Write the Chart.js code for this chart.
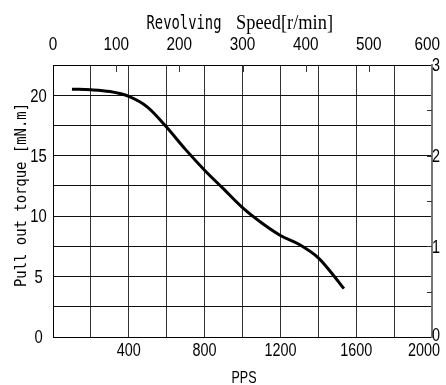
<!DOCTYPE html>
<html><head><meta charset="utf-8">
<script src="https://cdn.jsdelivr.net/npm/chart.js@4.4.1/dist/chart.umd.min.js"></script>
<style>html,body{margin:0;padding:0;background:#fff}</style>
</head><body>
<canvas id="c" width="446" height="385"></canvas>
<script>
// ---- data ----
const ppsValues    = [100, 200, 300, 400, 500, 600, 700, 800, 900, 1000, 1100, 1200, 1300, 1400, 1470, 1535];
const torqueValues = [20.5, 20.45, 20.3, 19.9, 19.0, 17.35, 15.5, 13.8, 12.25, 10.7, 9.45, 8.4, 7.65, 6.55, 5.3, 4.0];
const ppsTickLabels    = [400, 800, 1200, 1600, 2000];
const torqueTickLabels = [0, 5, 10, 15, 20];
const speedTickLabels  = [0, 100, 200, 300, 400, 500, 600];
const rightTickLabels  = [0, 1, 2, 3];
const topTitleA = "Revolving";
const topTitleB = "Speed[r/min]";
const leftTitle = "Pull out torque [mN.m]";
const bottomTitle = "PPS";

const sansFam = '"Liberation Sans", Arial, sans-serif';

function noPad(s){ s.paddingLeft = 0; s.paddingRight = 0; s.paddingTop = 0; s.paddingBottom = 0; }

const titlesPlugin = {
  id: 'titles',
  afterDraw(chart) {
    const ctx = chart.ctx;
    const ca = chart.chartArea;
    const W = chart.width;
    ctx.save();
    ctx.fillStyle = '#000';
    ctx.textBaseline = 'alphabetic';
    ctx.textAlign = 'left';
    function drawFit(text, font, x, y, width) {
      ctx.font = font;
      const w = ctx.measureText(text).width;
      ctx.save();
      ctx.translate(x, y);
      ctx.scale(width / w, 1);
      ctx.fillText(text, 0, 0);
      ctx.restore();
    }
    // condensed tick label: align 'center' | 'left', y = visual centre of digits
    function drawLabel(text, size, sx, x, yc, align) {
      ctx.font = size + 'px ' + sansFam;
      const w = ctx.measureText(text).width * sx;
      let left = align === 'left' ? x : x - w / 2;
      if (left + w > W - 6) left = W - 6 - w;
      ctx.save();
      ctx.translate(left, yc + size * 0.716 / 2);
      ctx.scale(sx, 1);
      ctx.fillText(text, 0, 0);
      ctx.restore();
    }
    // titles
    drawFit(topTitleA, '19px "DejaVu Sans Mono"', 146.5, 28.5, 75);
    drawFit(topTitleB, '20px "Liberation Serif"', 236, 28.5, 97);
    ctx.font = '16px "DejaVu Sans Mono"';
    const lw = ctx.measureText(leftTitle).width;
    ctx.save();
    ctx.translate(25.5, 195);
    ctx.rotate(-Math.PI / 2);
    ctx.scale(184 / lw, 1);
    ctx.textAlign = 'center';
    ctx.fillText(leftTitle, 0, 0);
    ctx.restore();
    ctx.font = '17px ' + sansFam;
    const bw = ctx.measureText(bottomTitle).width;
    ctx.save();
    ctx.translate(231.5, 383);
    ctx.scale(25 / bw, 1);
    ctx.fillText(bottomTitle, 0, 0);
    ctx.restore();

    // tick labels placed through the library's scales
    const sx = chart.scales.x, sx2 = chart.scales.x2, sy = chart.scales.y, sy2 = chart.scales.y2;
    ppsTickLabels.forEach(v => drawLabel(String(v), 18, 0.8, sx.getPixelForValue(v), ca.bottom + 13, 'center'));
    speedTickLabels.forEach(v => drawLabel(String(v), 18, 0.85, sx2.getPixelForValue(v), ca.top - 21.5, 'center'));
    torqueTickLabels.forEach(v => drawLabel(String(v), 19, 0.78, ca.left - 14.5, sy.getPixelForValue(v) - 0.5, 'center'));
    rightTickLabels.forEach(v => drawLabel(String(v), 18, 0.8, ca.right + 2, sy2.getPixelForValue(v) + (v === 0 ? -2 : 0), 'left'));

    // inner tick marks on top axis (r/min)
    ctx.strokeStyle = '#333';
    ctx.lineWidth = 1;
    ctx.beginPath();
    speedTickLabels.forEach(v => {
      if (v === 0 || v === 600) return;
      const px = Math.round(sx2.getPixelForValue(v)) + 0.5;
      ctx.moveTo(px, ca.top);
      ctx.lineTo(px, ca.top + 7);
    });
    // inner minor ticks on right axis
    [0.5, 1, 1.5, 2, 2.5].forEach(v => {
      const py = Math.round(sy2.getPixelForValue(v)) + 0.5;
      ctx.moveTo(ca.right - 5, py);
      ctx.lineTo(ca.right, py);
    });
    ctx.stroke();
    ctx.restore();
  }
};

const hiddenTicks = {display: false, autoSkip: false};

new Chart(document.getElementById('c'), {
  type: 'line',
  data: {
    datasets: [{
      data: ppsValues.map((x, i) => ({x, y: torqueValues[i]})),
      borderColor: '#000',
      borderWidth: 3,
      pointRadius: 0,
      fill: false,
      cubicInterpolationMode: 'monotone'
    }]
  },
  options: {
    responsive: false,
    devicePixelRatio: 1,
    animation: false,
    layout: {padding: 0},
    plugins: {legend: {display: false}, tooltip: {enabled: false}},
    scales: {
      x: {
        type: 'linear', position: 'bottom', min: 0, max: 2000,
        ticks: Object.assign({stepSize: 200}, hiddenTicks),
        grid: {color: '#333', lineWidth: 1, drawTicks: false},
        border: {color: '#000', width: 1},
        afterFit: s => { s.height = 48; noPad(s); }
      },
      x2: {
        type: 'linear', position: 'top', min: 0, max: 600,
        ticks: Object.assign({stepSize: 100}, hiddenTicks),
        grid: {drawOnChartArea: false, drawTicks: false},
        border: {color: '#000', width: 1},
        afterFit: s => { s.height = 65; noPad(s); }
      },
      y: {
        type: 'linear', position: 'left', min: 0, max: 22.5,
        ticks: Object.assign({stepSize: 2.5}, hiddenTicks),
        grid: {color: '#111', lineWidth: 1, drawTicks: false},
        border: {color: '#000', width: 1},
        afterFit: s => { s.width = 53; noPad(s); }
      },
      y2: {
        type: 'linear', position: 'right', min: 0, max: 3,
        ticks: Object.assign({stepSize: 1}, hiddenTicks),
        grid: {drawOnChartArea: false, drawTicks: false},
        border: {color: '#777', width: 2},
        afterFit: s => { s.width = 14; noPad(s); }
      }
    }
  },
  plugins: [titlesPlugin]
});
</script>
</body></html>
